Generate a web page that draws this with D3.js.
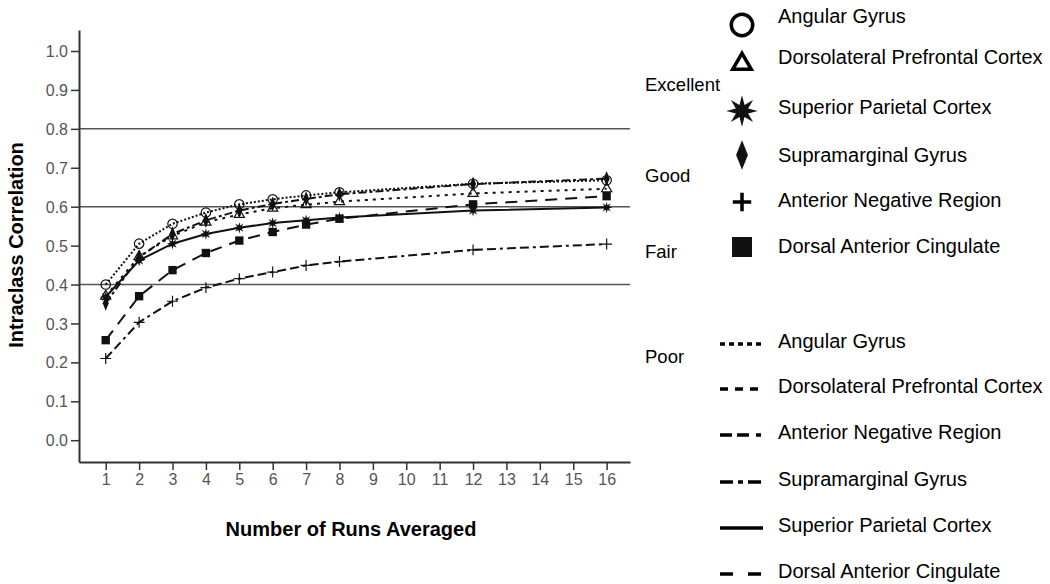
<!DOCTYPE html>
<html>
<head>
<meta charset="utf-8">
<script src="https://cdn.jsdelivr.net/npm/d3@7"></script>
<style>
  body { margin: 0; background: #fff; }
  svg { font-family: "Liberation Sans", Arial, sans-serif; }
</style>
</head>
<body>
<svg id="chart" width="1050" height="584"></svg>
<script>
// runs averaged (x positions of the points)
const runs = [1, 2, 3, 4, 5, 6, 7, 8, 12, 16];
const xTicks = d3.range(1, 17);
const yTicks = [0, 0.1, 0.2, 0.3, 0.4, 0.5, 0.6, 0.7, 0.8, 0.9, 1.0];

// ICC values per region
const angularGyrus      = [0.400, 0.505, 0.556, 0.585, 0.606, 0.619, 0.629, 0.637, 0.659, 0.668];
const dorsolateralPFC   = [0.370, 0.472, 0.525, 0.560, 0.580, 0.596, 0.605, 0.613, 0.634, 0.646];
const superiorParietal  = [0.368, 0.462, 0.505, 0.530, 0.546, 0.558, 0.565, 0.572, 0.590, 0.598];
const supramarginal     = [0.352, 0.470, 0.530, 0.565, 0.590, 0.607, 0.620, 0.632, 0.658, 0.672];
const anteriorNegative  = [0.210, 0.303, 0.357, 0.392, 0.415, 0.432, 0.449, 0.459, 0.489, 0.504];
const dorsalAntCingulate = [0.257, 0.370, 0.437, 0.481, 0.513, 0.535, 0.554, 0.569, 0.606, 0.627];

// reliability bands
const thresholds = [0.4, 0.6, 0.8];
const bandLabels = ["Excellent", "Good", "Fair", "Poor"];

const markerLegend = ["Angular Gyrus", "Dorsolateral Prefrontal Cortex", "Superior Parietal Cortex",
  "Supramarginal Gyrus", "Anterior Negative Region", "Dorsal Anterior Cingulate"];
const lineLegend = ["Angular Gyrus", "Dorsolateral Prefrontal Cortex", "Anterior Negative Region",
  "Supramarginal Gyrus", "Superior Parietal Cortex", "Dorsal Anterior Cingulate"];

const svg = d3.select("#chart");

const x = d3.scaleLinear().domain([0.2, 16.7]).range([79, 630]);
const y = d3.scaleLinear().domain([-0.056, 1.054]).range([462, 30]);

// 8-point star
const star8 = {
  draw(ctx, size) {
    const r = Math.sqrt(size) * 0.75, ri = r * 0.42;
    for (let i = 0; i < 16; i++) {
      const a = -Math.PI / 2 + i * Math.PI / 8;
      const rr = i % 2 ? ri : r;
      if (i === 0) ctx.moveTo(rr * Math.cos(a), rr * Math.sin(a));
      else ctx.lineTo(rr * Math.cos(a), rr * Math.sin(a));
    }
    ctx.closePath();
  }
};
// tall diamond
const diamondTall = {
  draw(ctx, size) {
    const h = Math.sqrt(size) * 0.8, w = h * 0.4;
    ctx.moveTo(0, -h); ctx.lineTo(w, 0); ctx.lineTo(0, h); ctx.lineTo(-w, 0); ctx.closePath();
  }
};
// thin plus
const plusThin = {
  draw(ctx, size) {
    const r = Math.sqrt(size) * 0.5;
    ctx.moveTo(-r, 0); ctx.lineTo(r, 0); ctx.moveTo(0, -r); ctx.lineTo(0, r);
  }
};

const series = [
  { name: "Angular Gyrus", values: angularGyrus, dash: "2,2", ldash: "5,4", symbol: d3.symbolCircle, fill: "none", stroke: true, size: 70, lsize: 360 },
  { name: "Dorsolateral Prefrontal Cortex", values: dorsolateralPFC, dash: "3,5", ldash: "8,7", symbol: d3.symbolTriangle, fill: "none", stroke: true, size: 45, lsize: 150 },
  { name: "Supramarginal Gyrus", values: supramarginal, dash: "8,3,3,3", ldash: "13,5,5,5,13,30", symbol: diamondTall, fill: "#111", stroke: false, size: 90, lsize: 340 },
  { name: "Superior Parietal Cortex", values: superiorParietal, dash: null, ldash: null, symbol: star8, fill: "#111", stroke: false, size: 60, lsize: 440 },
  { name: "Anterior Negative Region", values: anteriorNegative, dash: "9,4,9,4,3,4", ldash: "12,5,12,7,5,30", symbol: plusThin, fill: "none", stroke: true, size: 120, lsize: 340 },
  { name: "Dorsal Anterior Cingulate", values: dorsalAntCingulate, dash: "12,8", ldash: "13,15,13,30", symbol: d3.symbolSquare, fill: "#111", stroke: false, size: 70, lsize: 400 }
];
const byName = Object.fromEntries(series.map(s => [s.name, s]));

// reference lines
svg.append("g").selectAll("line")
  .data(thresholds)
  .join("line")
  .attr("x1", x.range()[0]).attr("x2", x.range()[1])
  .attr("y1", d => y(d)).attr("y2", d => y(d))
  .attr("stroke", "#555").attr("stroke-width", 1.5);

// axes
const yAxis = svg.append("g")
  .attr("transform", `translate(${x.range()[0]},0)`)
  .call(d3.axisLeft(y).tickValues(yTicks).tickFormat(d3.format(".1f")).tickSize(8).tickSizeOuter(0));
const xAxis = svg.append("g")
  .attr("transform", `translate(0,${y.range()[0]})`)
  .call(d3.axisBottom(x).tickValues(xTicks).tickSize(8).tickSizeOuter(0));

[yAxis, xAxis].forEach(g => {
  g.select(".domain").attr("stroke", "#333").attr("stroke-width", 2);
  g.selectAll(".tick line").attr("stroke", "#333").attr("stroke-width", 1.5);
  g.selectAll(".tick text").attr("fill", "#555").style("font-size", "16px")
    .style("font-family", "Liberation Sans, Arial, sans-serif");
});
yAxis.selectAll(".tick text").attr("x", -11).attr("dy", "0.35em");
xAxis.selectAll(".tick text").attr("y", 12);

// axis titles
svg.append("text")
  .attr("x", 351).attr("y", 536)
  .attr("text-anchor", "middle")
  .style("font-size", "20px").style("font-weight", "bold")
  .text("Number of Runs Averaged");
svg.append("text")
  .attr("transform", "translate(23,245) rotate(-90)")
  .attr("text-anchor", "middle")
  .style("font-size", "20px").style("font-weight", "bold")
  .text("Intraclass Correlation");

// band labels
const bandY = [91, 182, 258, 363];
svg.append("g").selectAll("text")
  .data(bandLabels)
  .join("text")
  .attr("x", 645).attr("y", (d, i) => bandY[i])
  .style("font-size", "18.5px")
  .text(d => d);

// lines
const line = d3.line().x((d, i) => x(runs[i])).y(d => y(d));
svg.append("g").selectAll("path")
  .data(series)
  .join("path")
  .attr("d", s => line(s.values))
  .attr("fill", "none")
  .attr("stroke", "#111")
  .attr("stroke-width", 2)
  .attr("stroke-dasharray", s => s.dash);

// markers
series.forEach(s => {
  svg.append("g").selectAll("path")
    .data(s.values)
    .join("path")
    .attr("transform", (d, i) => `translate(${x(runs[i])},${y(d)})`)
    .attr("d", d3.symbol(s.symbol, s.size))
    .attr("fill", s.fill)
    .attr("stroke", s.stroke ? "#111" : "none")
    .attr("stroke-width", 1.2);
});

// marker legend
const mleg = svg.append("g");
const mRows = [16, 57, 107, 155, 200, 246];
const mSymY = [25, 64, 111, 155, 202, 247];
markerLegend.forEach((name, i) => {
  const s = byName[name];
  mleg.append("path")
    .attr("transform", `translate(742,${mSymY[i]})`)
    .attr("d", d3.symbol(s.symbol, s.lsize))
    .attr("fill", s.fill)
    .attr("stroke", s.stroke ? "#000" : "none")
    .attr("stroke-width", 3.5);
  mleg.append("text")
    .attr("x", 778).attr("y", mRows[i]).attr("dy", "0.35em")
    .style("font-size", "20px")
    .text(name);
});

// line legend
const lleg = svg.append("g");
const lRows = [341, 386, 432, 479, 525, 571];
lineLegend.forEach((name, i) => {
  const s = byName[name];
  lleg.append("line")
    .attr("x1", 720).attr("x2", 763)
    .attr("y1", lRows[i] + 3).attr("y2", lRows[i] + 3)
    .attr("stroke", "#000").attr("stroke-width", 3.5)
    .attr("stroke-dasharray", s.ldash);
  lleg.append("text")
    .attr("x", 778).attr("y", lRows[i]).attr("dy", "0.35em")
    .style("font-size", "20px")
    .text(name);
});
</script>
</body>
</html>
